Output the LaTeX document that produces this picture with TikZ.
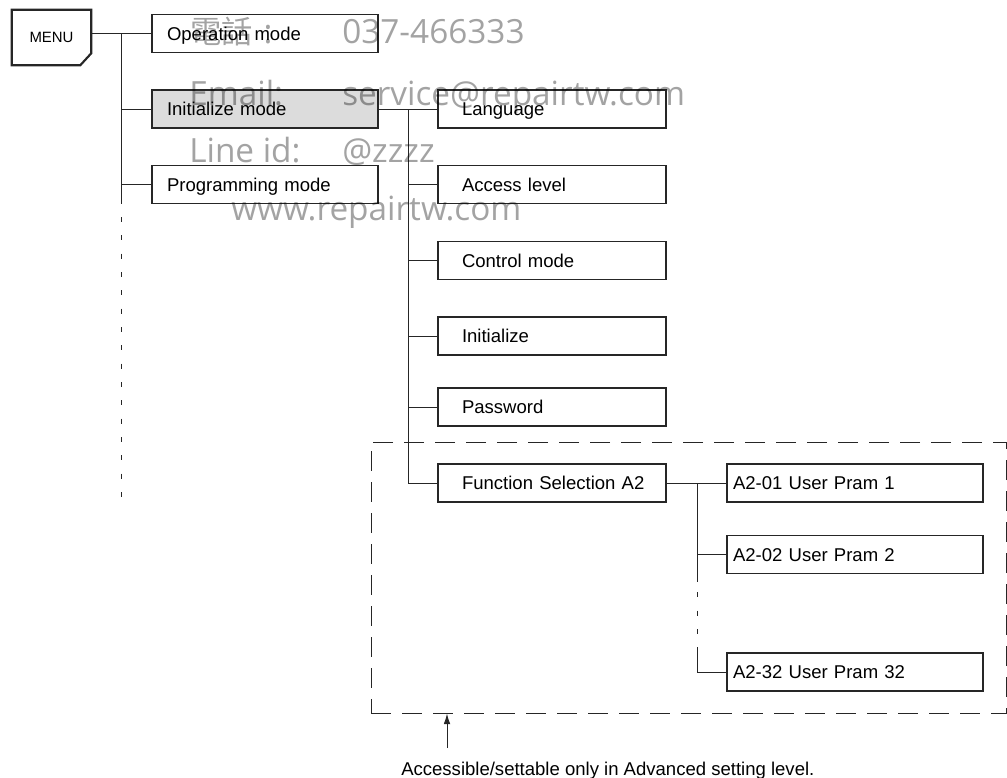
\documentclass[tikz,border=0pt]{standalone}
\usepackage{fontspec}
\setmainfont{Liberation Sans}
\newfontfamily\wmfont{Open Sans}
\newfontfamily\cjk{Noto Sans CJK TC}
\usetikzlibrary{arrows.meta,calc,positioning}
\definecolor{boxline}{HTML}{262626}
\definecolor{selfill}{HTML}{DCDCDC}

\begin{document}
\begin{tikzpicture}[x=0.75pt,y=-0.75pt,
  box/.style={draw=boxline,line width=0.8pt,minimum height=28.5pt,inner ysep=0pt,
    text height=10pt,text depth=0pt,align=left,font=\fontsize{13.9}{16}\selectfont},
  lvla/.style={box,inner xsep=11.25pt,text width=147pt},
  lvlb/.style={box,inner xsep=18pt,text width=135pt},
  lvlc/.style={box,inner xsep=4.5pt,text width=183pt},
  link/.style={line width=0.75pt,boxline},
  dots/.style={link,dash pattern=on 3.75pt off 10pt},
  wm/.style={anchor=base west,inner sep=0pt,black,opacity=0.36,
    font=\wmfont\fontsize{25}{30}\selectfont}]
  \useasboundingbox (0,0) rectangle (1007,778);
  \node[draw=boxline,line width=0.75pt,dash pattern=on 15pt off 8.25pt,
    minimum width=476.25pt,minimum height=203.25pt,inner sep=0pt] (adv) at (688.5,577.5) {};
  \node[minimum width=59.25pt,minimum height=41.25pt,inner sep=0pt,
    font=\fontsize{11.2}{13}\selectfont] (menu) at (51.5,37.5) {MENU};
  \draw[line width=1.6pt,boxline] (menu.north west) -- (menu.north east)
    -- ($(menu.south east)+(0,-12)$) -- ($(menu.south east)+(-11,0)$)
    -- (menu.south west) -- cycle;
  \foreach \nm/\yy/\fl/\txt in {op/33.5/white/Operation mode,
      init/109/selfill/Initialize mode,prog/184.5/white/Programming mode}
    \node[lvla,fill=\fl] (\nm) at (265,\yy) {\mbox{\txt}};
  \foreach \nm/\yy/\txt in {lang/109/Language,acc/184.5/Access level,
      ctrl/260.5/Control mode,ini/336/Initialize,pwd/407/Password,
      func/483/Function Selection A2}
    \node[lvlb] (\nm) at (552,\yy) {\mbox{\txt}};
  \foreach \nm/\yy/\txt in {p01/483/A2-01 User Pram 1,p02/554.5/A2-02 User Pram 2,
      p32/672/A2-32 User Pram 32}
    \node[lvlc] (\nm) at (855,\yy) {\mbox{\txt}};
  \coordinate (ta) at (121,0);
  \coordinate (tb) at (408,0);
  \coordinate (tc) at (697,0);
  \coordinate (taend) at (121,500);
  \coordinate (gapa) at (697,582);
  \coordinate (gapb) at (697,648);
  \draw[link] (menu.east |- op.west) -- (op.west);
  \draw[link] (ta |- op.west) -- (ta |- prog.south);
  \draw[dots,dash phase=4pt] (ta |- prog.south) -- (taend);
  \foreach \nm in {init,prog}
    \draw[link] (ta |- \nm.west) -- (\nm.west);
  \draw[link] (init.east) -- (lang.west);
  \draw[link] (tb |- lang.west) -- (tb |- func.west);
  \foreach \nm in {acc,ctrl,ini,pwd,func}
    \draw[link] (tb |- \nm.west) -- (\nm.west);
  \draw[link] (func.east) -- (p01.west);
  \draw[link] (tc |- p01.west) -- (gapa);
  \draw[dots,dash phase=6pt] (gapa) -- (gapb);
  \draw[link] (gapb) -- (tc |- p32.west) -- (p32.west);
  \draw[link] (tc |- p02.west) -- (p02.west);
  \coordinate (notept) at (447,748);
  \draw[link,-{Latex[length=8pt,width=5pt]}] (notept) -- (notept |- adv.south);
  \node[anchor=base west,inner sep=0pt,font=\fontsize{13.9}{16}\selectfont]
    (note) at (401,775) {Accessible/settable only in Advanced setting level.};
  \node[wm] (wma) at (190,43) {{\cjk\fontsize{23.5}{28}\selectfont 電話}\hspace{8pt}:};
  \node[wm] (wmb) at (342,43) {037-466333};
  \node[wm] (wmc) at (189,105) {Email:};
  \node[wm] (wmd) at (342,105) {service@repairtw.com};
  \node[wm] (wme) at (189,162) {Line id:};
  \node[wm] (wmf) at (342,162) {@zzzz};
  \node[wm] (wmg) at (231,220) {www.repairtw.com};
\end{tikzpicture}
\end{document}
